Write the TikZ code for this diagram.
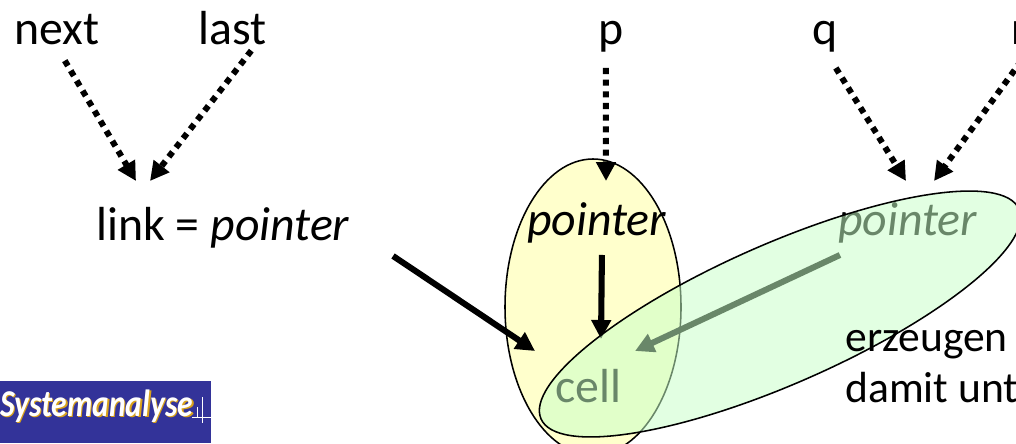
\documentclass[tikz,border=0pt]{standalone}
\usepackage{fontspec}
\setmainfont{Carlito}
\usepackage{tikz}
\usetikzlibrary{arrows.meta,shapes.geometric}
\definecolor{cellyellow}{HTML}{FFFFCC}
\definecolor{cellgreen}{RGB}{200,255,200}
\definecolor{logoblue}{HTML}{333399}
\definecolor{logogold}{HTML}{D9A21B}

\begin{document}
\begin{tikzpicture}[x=0.25mm, y=-0.25mm, >={Triangle[length=13.5pt,width=13.5pt]},
    lbl/.style={font=\fontsize{34}{36.3}\selectfont, inner sep=0pt, anchor=base west},
    dotarrow/.style={->, line width=4.3pt, dash pattern=on 4.3pt off 4pt},
    solidarrow/.style={->, line width=4.3pt},
    blob/.style={ellipse, draw=black, line width=1.1pt, inner sep=0pt},
    logotxt/.style={font=\bfseries\itshape\fontsize{27}{27}\selectfont, xscale=.83, inner sep=0pt, anchor=base west}]
    \clip (0,0) rectangle (1016,443);
    \path[use as bounding box] (0,0) rectangle (1016,443);

    % logo
    \node[fill=logoblue, minimum width=52.75mm, minimum height=15.5mm, inner sep=0pt, anchor=north west] (logo) at (0,381) {};
    \node[logotxt, text=logogold] (logoshade) at (1.5,417.5) {Systemanalyse};
    \node[logotxt, text=white] (logotext) at (0,416) {Systemanalyse};
    \draw[white, line width=0.7pt] (192,417)--(211,417) (202,397)--(202,423) (197,407)--(197,417);

    \node[blob, fill=cellyellow, minimum width=44mm, minimum height=74mm] (yellowcell) at (593,307) {};

    \node[lbl] (next) at (14,44) {next};
    \node[lbl] (last) at (198,44) {last};
    \node[lbl] (p) at (598,44) {p};
    \node[lbl] (q) at (812,44) {q};
    \node[lbl] (r) at (1011,44) {r};
    \node[lbl] (link) at (96,240) {link = \textit{pointer}};
    \node[lbl] (ptrA) at (527,235) {\textit{pointer}};
    \node[lbl] (ptrB) at (838,235) {\textit{pointer}};
    \node[lbl] (cell) at (555,402) {cell};

    \coordinate (linkA) at (136,181);
    \coordinate (linkB) at (150,181);
    \coordinate (cellTop) at (606,181);
    \coordinate (greenA) at (906,181);
    \coordinate (greenB) at (934,181);
    \coordinate (cellL) at (535,351);
    \coordinate (cellM) at (601,339);
    \coordinate (cellR) at (635,351);

    \draw[dotarrow] ([shift={(8,16)}]next.south) -- (linkA);
    \draw[dotarrow] ([shift={(19,6)}]last.south) -- (linkB);
    \draw[dotarrow] ([shift={(-5,16)}]p.south) -- (cellTop);
    \draw[dotarrow] ([shift={(11,16)}]q.south) -- (greenA);
    \draw[dotarrow] ([shift={(0,7)}]r.south east) -- (greenB);
    \draw[solidarrow] ([shift={(170,8)}]link.south) -- (cellL);
    \draw[solidarrow] ([shift={(5,12)}]ptrA.south) -- (cellM);
    \draw[solidarrow] ([shift={(-68,12)}]ptrB.south) -- (cellR);

    \node[blob, fill=cellgreen, fill opacity=.53, minimum width=130.5mm, minimum height=35mm, rotate=23.7] (greencell) at (780,314) {};

    \node[lbl, font=\fontsize{31}{36}\selectfont, align=left, anchor=north west] (note) at (845,330) {erzeugen u\\damit unte};
\end{tikzpicture}
\end{document}
